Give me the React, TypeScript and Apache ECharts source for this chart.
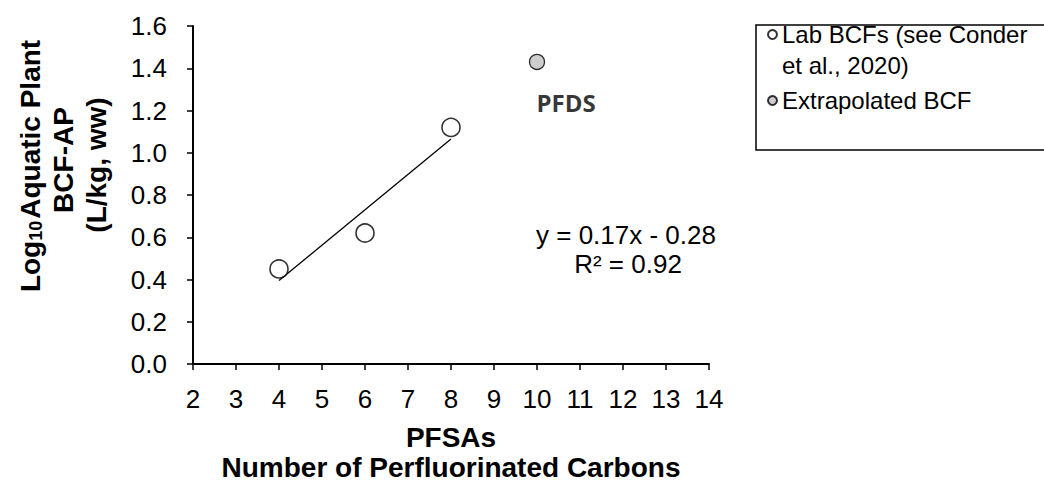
import React, { useEffect, useRef } from "react";
import * as echarts from "echarts";

const labCarbons = [4, 6, 8];
const labBCF = [0.45, 0.62, 1.12];
const extrapCarbons = [10];
const extrapBCF = [1.43];
const extrapLabels = ["PFDS"];
const xTicksMin = 2;
const xTicksMax = 14;
const yTicksMin = 0;
const yTicksMax = 1.6;
const labName = "Lab BCFs (see Conder et al., 2020)";
const labLines = ["Lab BCFs (see Conder", "et al., 2020)"];
const extrapName = "Extrapolated BCF";
const equationText = "y = 0.17x - 0.28";
const r2Text = "R² = 0.92";

function regression(xs: number[], ys: number[]) {
  const n = xs.length;
  const mx = xs.reduce((a, b) => a + b, 0) / n;
  const my = ys.reduce((a, b) => a + b, 0) / n;
  let sxy = 0;
  let sxx = 0;
  for (let i = 0; i < n; i++) {
    sxy += (xs[i] - mx) * (ys[i] - my);
    sxx += (xs[i] - mx) * (xs[i] - mx);
  }
  const slope = sxy / sxx;
  return { slope, intercept: my - slope * mx };
}

const FONT = "'Liberation Sans', Arial, sans-serif";

export default function App() {
  const ref = useRef<HTMLDivElement>(null);
  useEffect(() => {
    if (!ref.current) return;
    const chart = echarts.init(ref.current, undefined, { renderer: "svg" });
    const fit = regression(labCarbons, labBCF);
    const x0 = Math.min(...labCarbons);
    const x1 = Math.max(...labCarbons);
    const trend = [
      [x0, fit.slope * x0 + fit.intercept],
      [x1, fit.slope * x1 + fit.intercept],
    ];
    chart.setOption({
      animation: false,
      backgroundColor: "#ffffff",
      grid: { left: 193, top: 26, width: 516, height: 341 },
      xAxis: {
        type: "value",
        min: xTicksMin,
        max: xTicksMax,
        interval: 1,
        name: "PFSAs\nNumber of Perfluorinated Carbons",
        nameLocation: "middle",
        nameGap: 58,
        nameTextStyle: {
          fontFamily: FONT,
          fontWeight: "bold",
          fontSize: 28,
          lineHeight: 30,
          color: "#000",
        },
        axisLine: { onZero: false, lineStyle: { color: "#000", width: 2 } },
        axisTick: { show: true, length: 6, lineStyle: { color: "#000", width: 1.5 } },
        axisLabel: { margin: 22, fontFamily: FONT, fontSize: 26, color: "#000" },
        splitLine: { show: false },
      },
      yAxis: {
        type: "value",
        min: yTicksMin,
        max: yTicksMax,
        interval: 0.2,
        axisLine: { show: true, lineStyle: { color: "#000", width: 2 } },
        axisTick: { show: true, length: 6, lineStyle: { color: "#000", width: 1.5 } },
        axisLabel: {
          margin: 26,
          fontFamily: FONT,
          fontSize: 26,
          color: "#000",
          formatter: (v: number) => v.toFixed(1),
        },
        splitLine: { show: false },
      },
      legend: {
        orient: "vertical",
        left: 767,
        top: -8.5,
        padding: 0,
        itemGap: 11,
        itemWidth: 9,
        itemHeight: 9,
        icon: "circle",
        formatter: (name: string) =>
          name === labName
            ? "{p| }\n{t|" + labLines[0] + "}\n{t|" + labLines[1] + "}"
            : "{t|" + name + "}",
        textStyle: {
          fontFamily: FONT,
          fontSize: 24,
          color: "#000",
          rich: {
            p: { fontFamily: FONT, fontSize: 24, lineHeight: 31 },
            t: { fontFamily: FONT, fontSize: 24, lineHeight: 31, color: "#000" },
          },
        },
        data: [labName, extrapName],
      },
      series: [
        {
          name: "trend",
          type: "line",
          data: trend,
          showSymbol: false,
          symbol: "none",
          lineStyle: { color: "#000", width: 1.3 },
          z: 1,
        },
        {
          name: labName,
          type: "scatter",
          data: labCarbons.map((x, i) => [x, labBCF[i]]),
          symbol: "circle",
          symbolSize: 18,
          itemStyle: { color: "#ffffff", borderColor: "#000", borderWidth: 1.6 },
          z: 3,
        },
        {
          name: extrapName,
          type: "scatter",
          data: extrapCarbons.map((x, i) => ({ value: [x, extrapBCF[i]], name: extrapLabels[i] })),
          symbol: "circle",
          symbolSize: 15,
          itemStyle: { color: "#c0c0c0", borderColor: "#000", borderWidth: 1.3 },
          label: {
            show: true,
            position: "inside",
            offset: [29, 41],
            formatter: (p: any) => p.name,
            fontFamily: "'Open Sans', sans-serif",
            fontWeight: "bold",
            fontSize: 24,
            color: "#000",
          },
          z: 3,
        },
      ],
      graphic: [
        {
          type: "rect",
          shape: { x: 756, y: 25, width: 300, height: 125 },
          style: { fill: "none", stroke: "#000", lineWidth: 1.5 },
          z: 0,
        },
        {
          type: "text",
          x: 626,
          y: 235,
          style: {
            text: equationText,
            fontFamily: FONT,
            fontSize: 26,
            fill: "#000",
            align: "center",
            verticalAlign: "middle",
          },
        },
        {
          type: "text",
          x: 628,
          y: 264,
          style: {
            text: r2Text,
            fontFamily: FONT,
            fontSize: 26,
            fill: "#000",
            align: "center",
            verticalAlign: "middle",
          },
        },
        {
          type: "text",
          x: 30,
          y: 166,
          rotation: Math.PI / 2,
          style: {
            text: "{n|Log}{s|10}{n|Aquatic Plant}",
            align: "center",
            verticalAlign: "middle",
            rich: {
              n: { fontFamily: FONT, fontWeight: "bold", fontSize: 28, fill: "#000", lineHeight: 30 },
              s: {
                fontFamily: FONT,
                fontWeight: "bold",
                fontSize: 18,
                fill: "#000",
                lineHeight: 30,
                verticalAlign: "bottom",
                padding: [0, 2, 0, 0],
              },
            },
          },
        },
        {
          type: "text",
          x: 63,
          y: 160,
          rotation: Math.PI / 2,
          style: {
            text: "BCF-AP",
            fontFamily: FONT,
            fontWeight: "bold",
            fontSize: 28,
            fill: "#000",
            align: "center",
            verticalAlign: "middle",
          },
        },
        {
          type: "text",
          x: 96,
          y: 165,
          rotation: Math.PI / 2,
          style: {
            text: "(L/kg, ww)",
            fontFamily: FONT,
            fontWeight: "bold",
            fontSize: 28,
            fill: "#000",
            align: "center",
            verticalAlign: "middle",
          },
        },
      ],
    });
    return () => chart.dispose();
  }, []);
  return (
    <div
      ref={ref}
      style={{ position: "absolute", left: 0, top: 0, width: 1044, height: 487, background: "#fff" }}
    />
  );
}
